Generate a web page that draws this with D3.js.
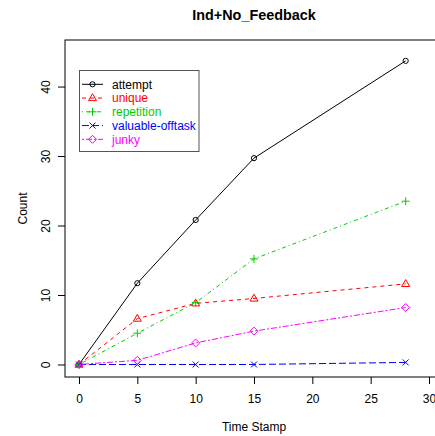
<!DOCTYPE html>
<html>
<head>
<meta charset="utf-8">
<script src="https://cdn.jsdelivr.net/npm/d3@7"></script>
<style>
  body { margin: 0; background: #fff; }
  text { font-family: "Liberation Sans", Arial, sans-serif; }
</style>
</head>
<body>
<div id="container"></div>
<script>
// data
const timeStamps = [0, 5, 10, 15, 28];
const attempt = [0, 11.7, 20.8, 29.7, 43.7];
const unique = [0, 6.6, 8.8, 9.5, 11.6];
const repetition = [0, 4.5, 8.9, 15.2, 23.5];
const valuableOfftask = [0, 0, 0, 0, 0.3];
const junky = [0, 0.6, 3.1, 4.8, 8.2];
const xTicks = [0, 5, 10, 15, 20, 25, 30];
const yTicks = [0, 10, 20, 30, 40];

const seriesNames = ['attempt', 'unique', 'repetition', 'valuable-offtask', 'junky'];
const seriesValues = [attempt, unique, repetition, valuableOfftask, junky];

// R style: colour, lty, pch per series
const STYLE = {
    colors: ['#000000', '#FF0000', '#00CD00', '#0000FF', '#FF00FF'],
    dashes: [null, '4,4', '1,3,4,3', '7,3', '2,2,6,2'],
    shapes: ['circle', 'triangle', 'plus', 'cross', 'diamond']
};

const width = 435, height = 436;
// plot region (box goes past the right edge like in the original)
const box = {left: 65, top: 40, right: 443, bottom: 377};

const svg = d3.select('#container')
    .append('svg')
    .attr('width', width)
    .attr('height', height);

// scales, R adds 4% on each side
const xScale = d3.scaleLinear().domain([-1.2, 31.2]).range([box.left, box.right]);
const yScale = d3.scaleLinear().domain([-1.8, 46.7]).range([box.bottom, box.top]);

const series = seriesNames.map((name, i) => ({
    name: name,
    color: STYLE.colors[i],
    dash: STYLE.dashes[i],
    shape: STYLE.shapes[i],
    points: timeStamps.map((t, j) => ({t: t, v: seriesValues[i][j]}))
}));

// draw one point symbol
function drawSymbol(g, shape, cx, cy, color) {
    if (shape === 'circle') {
        g.append('circle').attr('cx', cx).attr('cy', cy).attr('r', 2.6)
            .attr('fill', 'none').attr('stroke', color);
    } else if (shape === 'triangle') {
        g.append('path')
            .attr('d', `M${cx},${cy - 4.3}L${cx + 4},${cy + 2.6}L${cx - 4},${cy + 2.6}Z`)
            .attr('fill', 'none').attr('stroke', color);
    } else if (shape === 'plus') {
        g.append('path')
            .attr('d', `M${cx - 4},${cy}H${cx + 4}M${cx},${cy - 4}V${cy + 4}`)
            .attr('stroke', color);
    } else if (shape === 'cross') {
        g.append('path')
            .attr('d', `M${cx - 3},${cy - 3}L${cx + 3},${cy + 3}M${cx - 3},${cy + 3}L${cx + 3},${cy - 3}`)
            .attr('stroke', color);
    } else if (shape === 'diamond') {
        g.append('path')
            .attr('d', `M${cx},${cy - 4}L${cx + 4},${cy}L${cx},${cy + 4}L${cx - 4},${cy}Z`)
            .attr('fill', 'none').attr('stroke', color);
    }
}

// lines + points
const line = d3.line().x(d => xScale(d.t)).y(d => yScale(d.v));
series.forEach(s => {
    const g = svg.append('g').attr('class', 'series');
    g.append('path')
        .datum(s.points)
        .attr('d', line)
        .attr('fill', 'none')
        .attr('stroke', s.color)
        .attr('stroke-width', 1)
        .attr('stroke-dasharray', s.dash);
    s.points.forEach(p => drawSymbol(g, s.shape, xScale(p.t), yScale(p.v), s.color));
});

// box
svg.append('rect')
    .attr('x', box.left)
    .attr('y', box.top)
    .attr('width', box.right - box.left)
    .attr('height', box.bottom - box.top)
    .attr('fill', 'none')
    .attr('stroke', '#000');

// x axis
const xAxisG = svg.append('g')
    .attr('transform', `translate(0,${box.bottom})`)
    .call(d3.axisBottom(xScale).tickValues(xTicks).tickSize(7).tickSizeOuter(0).tickPadding(10));
xAxisG.select('.domain').remove();
xAxisG.selectAll('text').attr('font-size', 12).attr('fill', '#000')
    .style('font-family', '"Liberation Sans", Arial, sans-serif');

// y axis, labels turned like R's las=0
const yAxisG = svg.append('g')
    .attr('transform', `translate(${box.left},0)`)
    .call(d3.axisLeft(yScale).tickValues(yTicks).tickSize(7).tickSizeOuter(0));
yAxisG.select('.domain').remove();
yAxisG.selectAll('text')
    .attr('x', null).attr('dy', null)
    .attr('text-anchor', 'middle')
    .attr('transform', 'translate(-15,0) rotate(-90)')
    .attr('font-size', 12).attr('fill', '#000')
    .style('font-family', '"Liberation Sans", Arial, sans-serif');

// title and axis labels
svg.append('text')
    .attr('x', (box.left + box.right) / 2)
    .attr('y', 20)
    .attr('text-anchor', 'middle')
    .attr('font-size', 14.4)
    .attr('font-weight', 'bold')
    .text('Ind+No_Feedback');
svg.append('text')
    .attr('x', (box.left + box.right) / 2)
    .attr('y', 431)
    .attr('text-anchor', 'middle')
    .attr('font-size', 12)
    .text('Time Stamp');
svg.append('text')
    .attr('transform', `translate(27,${(box.top + box.bottom) / 2}) rotate(-90)`)
    .attr('text-anchor', 'middle')
    .attr('font-size', 12)
    .text('Count');

// legend
const legend = svg.append('g').attr('class', 'legend');
legend.append('rect')
    .attr('x', 79.5).attr('y', 70.5)
    .attr('width', 119.5).attr('height', 81)
    .attr('fill', '#fff').attr('stroke', '#555');
series.forEach((s, i) => {
    const y = 84.3 + i * 13.75;
    legend.append('line')
        .attr('x1', 82).attr('x2', 103)
        .attr('y1', y).attr('y2', y)
        .attr('stroke', s.color)
        .attr('stroke-dasharray', s.dash);
    drawSymbol(legend, s.shape, 92.5, y, s.color);
    legend.append('text')
        .attr('x', 112)
        .attr('y', y)
        .attr('dy', '0.36em')
        .attr('font-size', 12)
        .attr('fill', s.color)
        .text(s.name);
});
</script>
</body>
</html>
